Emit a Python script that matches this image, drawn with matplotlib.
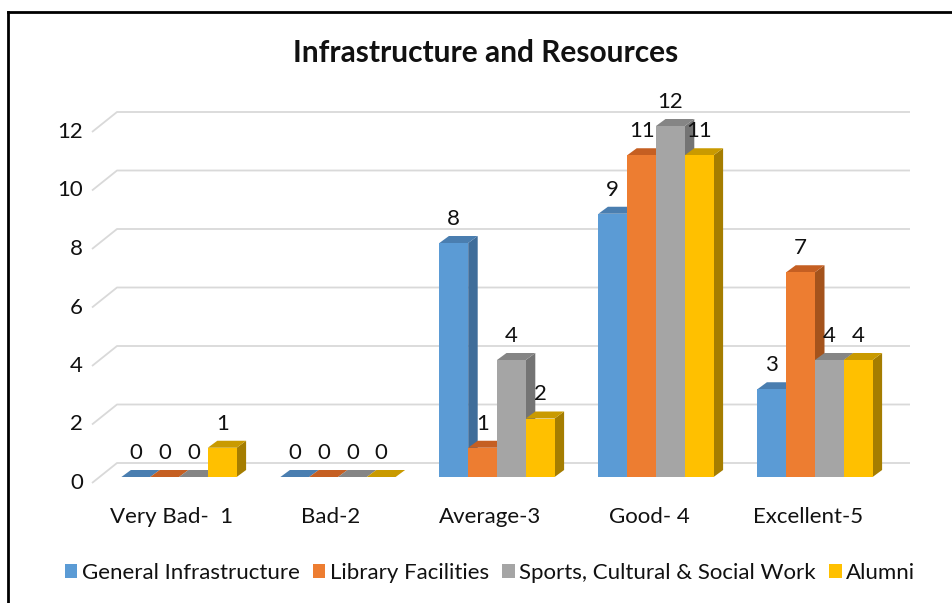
import matplotlib.pyplot as plt
from matplotlib.patches import Polygon, Patch
from matplotlib.lines import Line2D

plt.rcParams['font.family'] = ['Lato', 'DejaVu Sans']

# data
categories = ["Very Bad-  1", "Bad-2", "Average-3", "Good- 4", "Excellent-5"]
series_names = ["General Infrastructure", "Library Facilities",
                "Sports, Cultural & Social Work", "Alumni"]
general_infra = [0, 0, 8, 9, 3]
library = [0, 0, 1, 11, 7]
sports = [0, 0, 4, 12, 4]
alumni = [1, 0, 2, 11, 4]
yticks = [0, 2, 4, 6, 8, 10, 12]

front_colors = ["#5B9BD5", "#ED7D31", "#A5A5A5", "#FFC000"]
top_colors = ["#4A7EB0", "#C55F22", "#858585", "#C99A00"]
side_colors = ["#3F6D9A", "#A4531C", "#747474", "#A57D00"]

W, H = 953, 603
fig = plt.figure(figsize=(W / 100, H / 100), dpi=100)

# axes placement in pixels, and scale of the fake 3d box
L, R, T, B = 60, 930, 90, 500
x0_px, unit_x = 179.0, 159.0      # first category centre, px per category
y0_px, unit_y = 477.0, 29.25      # bar zero line, px per unit
ax = fig.add_axes([L / W, 1 - B / H, (R - L) / W, (B - T) / H])
ax.set_xlim((L - x0_px) / unit_x, (R - x0_px) / unit_x)
ax.set_ylim((y0_px - B) / unit_y, (y0_px - T) / unit_y)
ax.axis("off")

def px2x(d):
    return d / unit_x

def px2y(d):
    return d / unit_y

fs = 16

# back wall gridlines with the little perspective tick on the left
wall_dy = px2y(14)
front_dy = px2y(-6)
x_front = (92 - x0_px) / unit_x
x_back = (117 - x0_px) / unit_x
x_end = (910 - x0_px) / unit_x
for v in yticks:
    ax.plot([x_front, x_back, x_end], [v + front_dy, v + wall_dy, v + wall_dy],
            color="#D9D9D9", lw=1.3, zorder=1, solid_capstyle="butt")
    ax.text(x_front - px2x(9), v + front_dy, str(v), ha="right", va="center",
            fontsize=fs, color="#111111")

# bars
series = [general_infra, library, sports, alumni]
bar_w = px2x(28.8)
dx, dy = px2x(9.5), px2y(7)
n = len(series)
z = 2
for ci in range(len(categories)):
    for si in range(n):
        h = series[si][ci]
        xl = ci - n * bar_w / 2 + si * bar_w
        xr = xl + bar_w
        side = Polygon([(xr, 0), (xr + dx, dy), (xr + dx, h + dy), (xr, h)],
                       closed=True, fc=side_colors[si], ec="none", zorder=z)
        top = Polygon([(xl, h), (xr, h), (xr + dx, h + dy), (xl + dx, h + dy)],
                      closed=True, fc=top_colors[si], ec="none", zorder=z + 0.1)
        ax.add_patch(side)
        ax.add_patch(top)
        if h > 0:
            ax.bar(xl, h, width=bar_w, align="edge", color=front_colors[si],
                   edgecolor="none", zorder=z + 0.2)
        z += 0.5
        ax.text((xl + xr) / 2, h + px2y(24), str(h), ha="center", va="center",
                fontsize=fs, color="#111111", zorder=20)

for ci, cat in enumerate(categories):
    ax.text(ci - px2x(7), -px2y(40), cat, ha="center", va="center",
            fontsize=fs, color="#111111")

fig.text(485.5 / W, 1 - 53 / H, "Infrastructure and Resources", ha="center",
         va="center", fontsize=21.5, fontweight="bold", color="#111111")

handles = [Patch(facecolor=c, edgecolor="none") for c in front_colors]
fig.legend(handles, series_names, loc="center", bbox_to_anchor=(490 / W, 1 - 573 / H),
           ncol=4, frameon=False, fontsize=16, handlelength=0.56, handleheight=0.56,
           handletextpad=0.2, columnspacing=0.6, labelcolor="#111111")

# chart border (top and left edges visible)
fig.add_artist(Line2D([8 / W, 1.0], [1 - 12 / H, 1 - 12 / H], color="black", lw=2,
                      transform=fig.transFigure))
fig.add_artist(Line2D([8 / W, 8 / W], [0, 1 - 12 / H], color="black", lw=2,
                      transform=fig.transFigure))

fig.savefig("out.png", dpi=100, facecolor="white")
